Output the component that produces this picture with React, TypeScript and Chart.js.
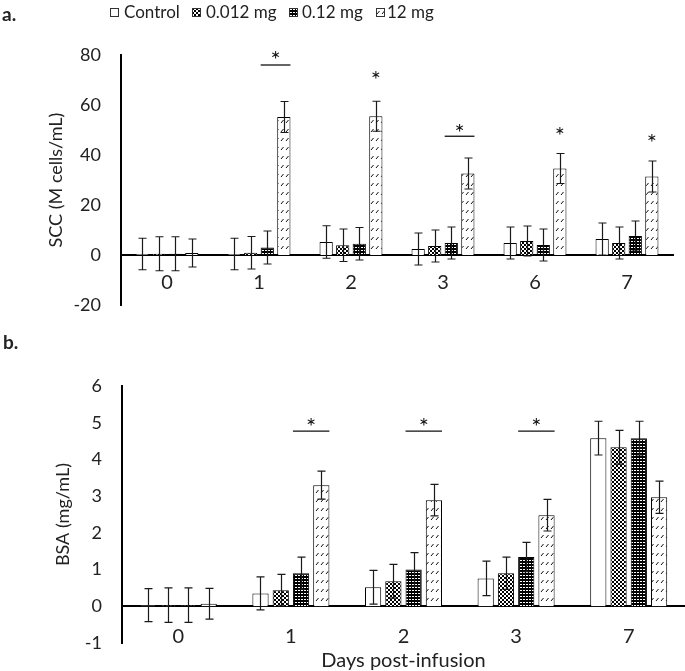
import React, { useEffect, useRef } from 'react';
import { Chart, registerables } from 'chart.js';

Chart.register(...registerables);

const FONT = 'Lato, "Open Sans", "Noto Sans", sans-serif';

// ---------- Panel a: SCC (M cells/mL) ----------
const sccDays = ['0', '1', '2', '3', '6', '7'];
const sccControl = [0.4, 0.4, 5.2, 2.4, 4.8, 6.4];
const sccLow = [0.5, 0.9, 3.9, 3.6, 5.6, 4.8];
const sccMid = [0.5, 3.0, 4.5, 4.8, 4.0, 7.6];
const sccHigh = [0.8, 55.2, 55.5, 32.6, 34.6, 31.4];
const sccControlErr = [6.3, 6.3, 6.5, 6.4, 6.4, 6.4];
const sccLowErr = [6.8, 6.5, 6.5, 6.4, 6.0, 6.4];
const sccMidErr = [6.8, 6.6, 6.5, 6.4, 6.4, 6.0];
const sccHighErr = [5.6, 6.2, 6.0, 6.2, 6.0, 6.2];
const sccSigLineDays = [1, 3];
const sccSigLineY = [76, 47.5];
const sccStarDays = [1, 2, 3, 4, 5];
const sccStarY = [80, 72, 51, 49.6, 47];
const sccTicks = { min: -20, max: 80, step: 20 };

// ---------- Panel b: BSA (mg/mL) ----------
const bsaDays = ['0', '1', '2', '3', '7'];
const bsaControl = [0.03, 0.35, 0.52, 0.76, 4.58];
const bsaLow = [0.03, 0.44, 0.68, 0.9, 4.33];
const bsaMid = [0.03, 0.9, 1.0, 1.34, 4.58];
const bsaHigh = [0.07, 3.3, 2.89, 2.48, 2.97];
const bsaControlErr = [0.45, 0.45, 0.46, 0.47, 0.46];
const bsaLowErr = [0.47, 0.43, 0.46, 0.44, 0.46];
const bsaMidErr = [0.47, 0.44, 0.46, 0.4, 0.46];
const bsaHighErr = [0.42, 0.38, 0.43, 0.43, 0.44];
const bsaSigLineDays = [1, 2, 3];
const bsaSigLineY = [4.77, 4.77, 4.77];
const bsaStarDays = [1, 2, 3];
const bsaStarY = [5.02, 5.02, 5.02];
const bsaTicks = { min: -1, max: 6, step: 1 };

const seriesNames = ['Control', '0.012 mg', '0.12 mg', '12 mg'];
const seriesKinds = ['plain', 'checker', 'dense', 'dash'];

function makeFill(kind: string): CanvasPattern | string {
  if (kind === 'plain') return '#ffffff';
  const c = document.createElement('canvas');
  if (kind === 'checker') {
    c.width = 4; c.height = 4;
    const g = c.getContext('2d')!;
    g.fillStyle = '#ffffff'; g.fillRect(0, 0, 4, 4);
    g.fillStyle = '#000000'; g.fillRect(0, 0, 2, 2); g.fillRect(2, 2, 2, 2);
    return g.createPattern(c, 'repeat')!;
  }
  if (kind === 'dense') {
    c.width = 3; c.height = 3;
    const g = c.getContext('2d')!;
    g.fillStyle = '#000000'; g.fillRect(0, 0, 3, 3);
    g.fillStyle = '#ffffff'; g.fillRect(1, 1, 2, 1);
    return g.createPattern(c, 'repeat')!;
  }
  c.width = 5; c.height = 9;
  const g = c.getContext('2d')!;
  g.fillStyle = '#ffffff'; g.fillRect(0, 0, 5, 9);
  g.strokeStyle = '#111111'; g.lineWidth = 1;
  g.beginPath(); g.moveTo(1, 6); g.lineTo(3.5, 3); g.stroke();
  return g.createPattern(c, 'repeat')!;
}

const overlayPlugin = {
  id: 'overlay',
  afterDatasetsDraw(chart: any, _args: any, opts: any) {
    const { ctx } = chart;
    const ys = chart.scales.y;
    ctx.save();
    ctx.strokeStyle = '#1a1a1a';
    ctx.lineWidth = 1.2;
    (opts.errors as number[][]).forEach((errs, di) => {
      const meta = chart.getDatasetMeta(di);
      const vals = chart.data.datasets[di].data as number[];
      meta.data.forEach((el: any, i: number) => {
        const v = vals[i];
        const e = errs[i];
        const x = Math.round(el.x) + 0.5;
        const top = ys.getPixelForValue(v + e);
        const bot = ys.getPixelForValue(v - e);
        ctx.beginPath();
        ctx.moveTo(x, top); ctx.lineTo(x, bot);
        ctx.moveTo(x - 4, top); ctx.lineTo(x + 4, top);
        ctx.moveTo(x - 4, bot); ctx.lineTo(x + 4, bot);
        ctx.stroke();
      });
    });
    const m2 = chart.getDatasetMeta(2);
    const m3 = chart.getDatasetMeta(3);
    ctx.strokeStyle = '#111';
    ctx.lineWidth = 1.3;
    (opts.lineDays as number[]).forEach((d, k) => {
      const a = m2.data[d];
      const b = m3.data[d];
      const x0 = a.x - a.width / 2;
      const x1 = b.x + b.width / 2;
      const py = ys.getPixelForValue(opts.lineY[k]);
      ctx.beginPath(); ctx.moveTo(x0, py); ctx.lineTo(x1, py); ctx.stroke();
    });
    ctx.fillStyle = '#111';
    ctx.font = `24px ${FONT}`;
    ctx.textAlign = 'center';
    ctx.textBaseline = 'alphabetic';
    (opts.starDays as number[]).forEach((d, k) => {
      const onLine = (opts.lineDays as number[]).indexOf(d) >= 0;
      const x = onLine ? (m2.data[d].x + m3.data[d].x) / 2 : m3.data[d].x;
      const py = ys.getPixelForValue(opts.starY[k]);
      ctx.fillText('*', x, py + 13);
    });
    ctx.restore();
  },
};

function buildChart(
  canvas: HTMLCanvasElement,
  labels: string[],
  values: number[][],
  errors: number[][],
  ticks: { min: number; max: number; step: number },
  title: string,
  sig: { lineDays: number[]; lineY: number[]; starDays: number[]; starY: number[] },
  layout: { top: number; bottom: number; right: number; axisWidth: number; titlePad: number; xPad: number },
) {
  return new Chart(canvas, {
    type: 'bar',
    data: {
      labels,
      datasets: values.map((vals, i) => ({
        label: seriesNames[i],
        data: vals,
        backgroundColor: makeFill(seriesKinds[i]) as any,
        borderColor: '#000000',
        borderWidth: 1,
        categoryPercentage: 0.72,
        barPercentage: 0.8,
      })),
    },
    options: {
      responsive: false,
      animation: false,
      events: [],
      layout: { padding: { top: layout.top, bottom: layout.bottom, left: 0, right: layout.right } },
      plugins: {
        legend: { display: false },
        tooltip: { enabled: false },
        overlay: { errors, ...sig },
      } as any,
      scales: {
        x: {
          position: { y: 0 } as any,
          grid: { display: false, drawTicks: false },
          border: { display: true, color: '#000000', width: 2 },
          ticks: { color: '#222', font: { family: FONT, size: 20 }, padding: layout.xPad },
        },
        y: {
          min: ticks.min,
          max: ticks.max,
          grid: { display: false, drawTicks: false },
          border: { display: true, color: '#000000', width: 2 },
          ticks: { stepSize: ticks.step, color: '#222', font: { family: FONT, size: 18 }, padding: 20 },
          title: {
            display: true,
            text: title,
            color: '#222',
            font: { family: FONT, size: 18 },
            padding: { top: layout.titlePad, bottom: 0 },
          },
          afterFit: (s: any) => { s.width = layout.axisWidth; },
        },
      },
    },
    plugins: [overlayPlugin],
  });
}

function Swatch({ kind, left }: { kind: string; left: number }) {
  const ref = useRef<HTMLCanvasElement>(null);
  useEffect(() => {
    const c = ref.current!;
    const g = c.getContext('2d')!;
    g.fillStyle = makeFill(kind) as any;
    g.fillRect(0, 0, 9, 9);
    g.strokeStyle = '#333';
    g.lineWidth = 1;
    g.strokeRect(0.5, 0.5, 8, 8);
  }, [kind]);
  return <canvas ref={ref} width={9} height={9} style={{ position: 'absolute', left, top: 8 }} />;
}

const legendBoxX = [110, 192, 289, 376];
const legendTextX = [124, 206, 302, 387];

export default function App() {
  const topRef = useRef<HTMLCanvasElement>(null);
  const botRef = useRef<HTMLCanvasElement>(null);

  useEffect(() => {
    const a = buildChart(
      topRef.current!,
      sccDays,
      [sccControl, sccLow, sccMid, sccHigh],
      [sccControlErr, sccLowErr, sccMidErr, sccHighErr],
      sccTicks,
      'SCC (M cells/mL)',
      { lineDays: sccSigLineDays, lineY: sccSigLineY, starDays: sccStarDays, starY: sccStarY },
      { top: 55, bottom: 31, right: 12, axisWidth: 121, titlePad: 45, xPad: 16 },
    );
    const b = buildChart(
      botRef.current!,
      bsaDays,
      [bsaControl, bsaLow, bsaMid, bsaHigh],
      [bsaControlErr, bsaLowErr, bsaMidErr, bsaHighErr],
      bsaTicks,
      'BSA (mg/mL)',
      { lineDays: bsaSigLineDays, lineY: bsaSigLineY, starDays: bsaStarDays, starY: bsaStarY },
      { top: 61, bottom: 31, right: 0, axisWidth: 122, titlePad: 52, xPad: 18 },
    );
    return () => { a.destroy(); b.destroy(); };
  }, []);

  return (
    <div style={{ position: 'fixed', left: 0, top: 0, width: 685, height: 671, background: '#fff', fontFamily: FONT, color: '#222', overflow: 'hidden' }}>
      <canvas ref={topRef} width={685} height={336} style={{ position: 'absolute', left: 0, top: 0 }} />
      <canvas ref={botRef} width={685} height={349} style={{ position: 'absolute', left: 0, top: 325 }} />
      <div style={{ position: 'absolute', left: 2, top: 2, fontSize: 19, fontWeight: 700, lineHeight: '24px' }}>a.</div>
      <div style={{ position: 'absolute', left: 3, top: 330, fontSize: 19, fontWeight: 700, lineHeight: '24px' }}>b.</div>
      {seriesNames.map((n, i) => (
        <React.Fragment key={n}>
          <Swatch kind={seriesKinds[i]} left={legendBoxX[i]} />
          <div style={{ position: 'absolute', left: legendTextX[i], top: 1, fontSize: 17, lineHeight: '22px', whiteSpace: 'nowrap' }}>{n}</div>
        </React.Fragment>
      ))}
      <div style={{ position: 'absolute', left: 122, width: 563, top: 647, textAlign: 'center', fontSize: 20, lineHeight: '24px' }}>Days post-infusion</div>
    </div>
  );
}
